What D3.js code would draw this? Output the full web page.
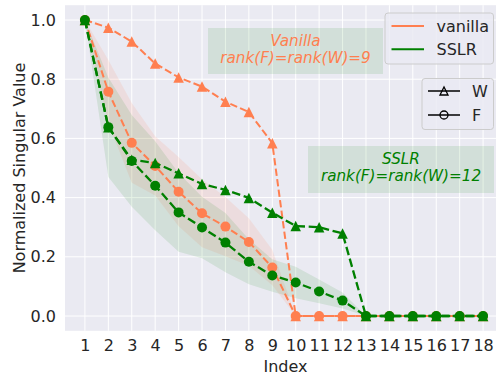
<!DOCTYPE html>
<html><head><meta charset="utf-8">
<script src="https://cdn.jsdelivr.net/npm/d3@7"></script>
<style>body{margin:0;background:#fff}svg{display:block;font-family:"DejaVu Sans",sans-serif}</style>
</head><body><svg id="c" width="496" height="377"></svg>
<script>
const indices = [1,2,3,4,5,6,7,8,9,10,11,12,13,14,15,16,17,18];
const yTicks = [0.0,0.2,0.4,0.6,0.8,1.0];
const vanillaW = [1.0,0.974,0.927,0.853,0.806,0.775,0.724,0.689,0.584,0,0,0,0,0,0,0,0,0];
const vanillaF = [1.0,0.758,0.585,0.507,0.420,0.347,0.302,0.250,0.164,0,0,0,0,0,0,0,0,0];
const vanillaFStd = [0,0.107,0.135,0.100,0.117,0.115,0.100,0.080,0.060,0,0,0,0,0,0,0,0,0];
const sslrW = [1.0,0.638,0.528,0.517,0.482,0.446,0.426,0.399,0.349,0.304,0.300,0.279,0,0,0,0,0,0];
const sslrF = [1.0,0.638,0.524,0.440,0.350,0.299,0.248,0.183,0.137,0.113,0.083,0.052,0,0,0,0,0,0];
const sslrFStd = [0,0.168,0.155,0.150,0.133,0.104,0.100,0.076,0.055,0.053,0.040,0.027,0,0,0,0,0,0];
const seriesNames = ["vanilla","SSLR"];
const markerNames = ["W","F"];

const coral = "#FF7F50", green = "#008000", txt = "#262626";
const svg = d3.select("#c");
const x = d3.scaleLinear().domain([0.15,18.85]).range([65,503]);
const y = d3.scaleLinear().domain([-0.05,1.05]).range([330.8,5.2]);

svg.append("rect").attr("x",x(0.15)).attr("y",y(1.05)).attr("width",x(18.85)-x(0.15)).attr("height",y(-0.05)-y(1.05)).attr("fill","#EAEAF2");
svg.append("g").selectAll("line").data(indices).join("line")
  .attr("x1",d=>x(d)).attr("x2",d=>x(d)).attr("y1",y(1.05)).attr("y2",y(-0.05))
  .attr("stroke","#fff").attr("stroke-width",1);
svg.append("g").selectAll("line").data(yTicks).join("line")
  .attr("y1",d=>y(d)).attr("y2",d=>y(d)).attr("x1",x(0.15)).attr("x2",x(18.85))
  .attr("stroke","#fff").attr("stroke-width",1);

const xAxis = svg.append("g").attr("transform",`translate(0,${y(-0.05)})`)
  .call(d3.axisBottom(x).tickValues(indices).tickFormat(d3.format("d")).tickSize(0).tickPadding(9));
const yAxis = svg.append("g").attr("transform",`translate(${x(0.15)},0)`)
  .call(d3.axisLeft(y).tickValues(yTicks).tickFormat(d3.format(".1f")).tickSize(0).tickPadding(9));
[xAxis,yAxis].forEach(a=>{a.select(".domain").remove();a.selectAll("text").attr("font-size",16).attr("fill",txt).attr("font-family","DejaVu Sans");});

svg.append("text").attr("x",(x(0.15)+496)/2+5).attr("y",372).attr("text-anchor","middle")
  .attr("font-size",16).attr("fill",txt).text("Index");
svg.append("text").attr("transform",`translate(25,${(y(1.05)+y(-0.05))/2}) rotate(-90)`)
  .attr("text-anchor","middle").attr("font-size",16).attr("fill",txt).text("Normalized Singular Value");

function band(mean,std,color,op){
  const d = indices.map((k,i)=>({k,lo:mean[i]-std[i],hi:mean[i]+std[i]}));
  svg.append("path").datum(d).attr("fill",color).attr("fill-opacity",op)
    .attr("d",d3.area().x(p=>x(p.k)).y0(p=>y(p.lo)).y1(p=>y(p.hi)));
}
band(vanillaF,vanillaFStd,coral,0.12);
band(sslrF,sslrFStd,green,0.1);

const tri = s => `M0,${-s/2}L${-s/2},${s/2}L${s/2},${s/2}Z`;
function series(vals,color,lw,marker){
  const d = indices.map((k,i)=>({k,v:vals[i]}));
  svg.append("path").datum(d).attr("fill","none").attr("stroke",color).attr("stroke-width",lw)
    .attr("stroke-dasharray",`${3.7*lw},${1.6*lw}`)
    .attr("d",d3.line().x(p=>x(p.k)).y(p=>y(p.v)));
  const g = svg.append("g");
  if(marker==="tri"){
    g.selectAll("path").data(d).join("path").attr("d",tri(10.5))
      .attr("transform",p=>`translate(${x(p.k)},${y(p.v)})`).attr("fill",color);
  } else {
    g.selectAll("circle").data(d).join("circle").attr("cx",p=>x(p.k)).attr("cy",p=>y(p.v)).attr("r",5).attr("fill",color);
  }
}
series(vanillaW,coral,2,"tri");
series(vanillaF,coral,2,"circ");
series(sslrW,green,2.3,"tri");
series(sslrF,green,2.3,"circ");

function note(x0,y0,w,h,lines,color){
  svg.append("rect").attr("x",x0).attr("y",y0).attr("width",w).attr("height",h).attr("fill",green).attr("fill-opacity",0.1);
  lines.forEach((t,i)=>svg.append("text").attr("x",x0+w/2).attr("y",y0+17.5+i*17.5)
    .attr("text-anchor","middle").attr("font-size",15.2).attr("font-style","italic").attr("fill",color).text(t));
}
note(208,28,175,46,["Vanilla","rank(F)=rank(W)=9"],coral);
note(308,146,186,47,["SSLR","rank(F)=rank(W)=12"],green);

const l1 = svg.append("g");
l1.append("rect").attr("x",385).attr("y",13).attr("width",108.5).attr("height",51).attr("rx",3)
  .attr("fill","#EAEAF2").attr("fill-opacity",0.8).attr("stroke","#cccccc");
[coral,green].forEach((c,i)=>{
  l1.append("line").attr("x1",391.5).attr("x2",424).attr("y1",26+i*23.3).attr("y2",26+i*23.3).attr("stroke",c).attr("stroke-width",2);
  l1.append("text").attr("x",436.5).attr("y",31.5+i*23.3).attr("font-size",16).attr("fill",txt).text(seriesNames[i]);
});
const l2 = svg.append("g");
l2.append("rect").attr("x",422).attr("y",78.5).attr("width",71.5).attr("height",51).attr("rx",3)
  .attr("fill","#EAEAF2").attr("fill-opacity",0.8).attr("stroke","#cccccc");
markerNames.forEach((m,i)=>{
  const yy = 91+i*24;
  l2.append("line").attr("x1",428).attr("x2",460).attr("y1",yy).attr("y2",yy).attr("stroke","#000").attr("stroke-width",1.5);
  if(i===0) l2.append("path").attr("d",tri(8)).attr("transform",`translate(444,${yy})`).attr("fill","none").attr("stroke","#000").attr("stroke-width",1.3);
  else l2.append("circle").attr("cx",444).attr("cy",yy).attr("r",4).attr("fill","none").attr("stroke","#000").attr("stroke-width",1.3);
  l2.append("text").attr("x",472).attr("y",yy+6).attr("font-size",16).attr("fill",txt).text(m);
});
</script></body></html>
